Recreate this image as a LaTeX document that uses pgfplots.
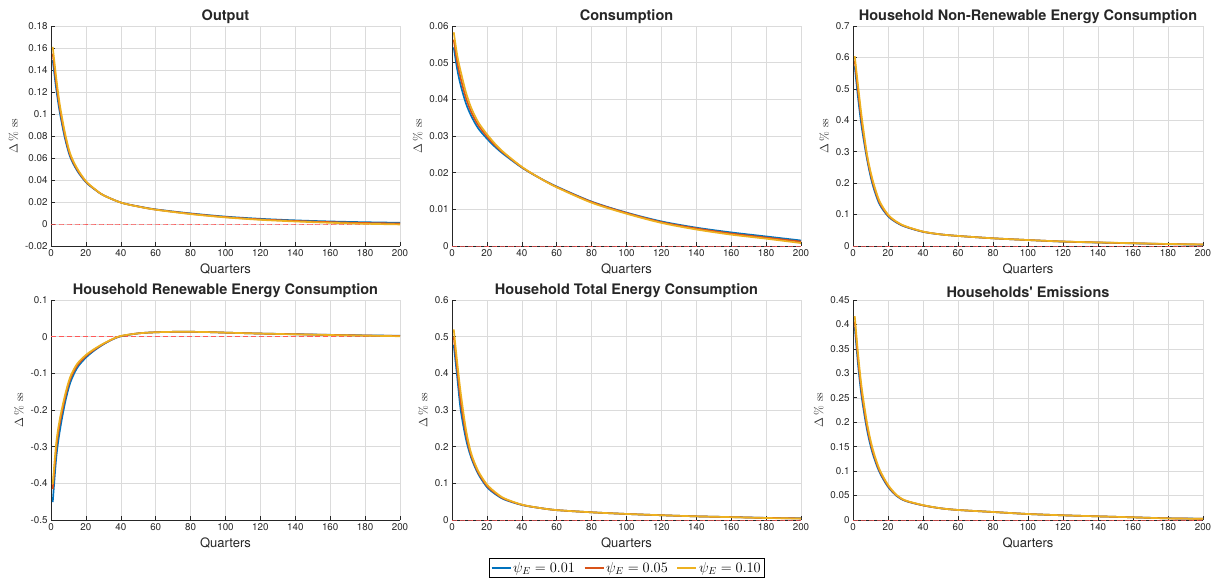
\documentclass[border=0pt]{standalone}
\usepackage{fontspec}
\usepackage{pgfplots}
\pgfplotsset{compat=1.18}
\usepackage{pgfplotstable}
\newfontfamily\helv{TeX Gyre Heros}
\definecolor{cB}{rgb}{0,0.447,0.741}
\definecolor{cO}{rgb}{0.850,0.325,0.098}
\definecolor{cY}{rgb}{0.929,0.694,0.125}
\definecolor{axc}{rgb}{0.15,0.15,0.15}
\definecolor{gridc}{rgb}{0.86,0.86,0.86}
\definecolor{zl}{rgb}{1,0.35,0.35}

\pgfplotstableread{
x b o y
1 0.149 0.155 0.161
3 0.123 0.128 0.133
5 0.102 0.1055 0.109
8 0.078 0.0805 0.083
11 0.061 0.0625 0.064
15 0.0485 0.0495 0.0505
20 0.038 0.0385 0.039
25 0.0315 0.0317 0.0319
30 0.0262 0.0262 0.0262
40 0.0195 0.0195 0.0195
50 0.016 0.0159 0.0158
60 0.0133 0.0131 0.013
80 0.0096 0.0093 0.009
100 0.0067 0.0063 0.006
120 0.0047 0.0042 0.0038
140 0.0033 0.0028 0.0023
160 0.0023 0.0017 0.0011
180 0.0016 0.0009 0.0002
200 0.0011 0.0004 -0.0004
}\tOut

\pgfplotstableread{
x b o y
1 0.0542 0.0563 0.0583
3 0.0482 0.0501 0.0520
5 0.0438 0.0457 0.0476
8 0.0389 0.0404 0.0419
11 0.0355 0.0366 0.0377
15 0.0321 0.0330 0.0338
20 0.0293 0.0299 0.0305
25 0.0269 0.0273 0.0277
30 0.0249 0.0252 0.0254
40 0.0214 0.0215 0.0216
50 0.0186 0.0186 0.0186
60 0.0162 0.0161 0.0160
80 0.0121 0.0120 0.0118
100 0.0091 0.0090 0.0088
120 0.0067 0.0065 0.0063
140 0.0050 0.0048 0.0045
160 0.0037 0.0034 0.0031
180 0.0026 0.0023 0.0020
200 0.0015 0.0012 0.0008
}\tCons

\pgfplotstableread{
x b o y
1 0.572 0.590 0.604
3 0.467 0.487 0.505
5 0.378 0.394 0.410
8 0.277 0.285 0.292
11 0.200 0.208 0.215
15 0.135 0.140 0.145
20 0.095 0.0975 0.100
25 0.074 0.0755 0.077
30 0.061 0.062 0.063
40 0.045 0.0455 0.046
50 0.037 0.037 0.037
60 0.032 0.032 0.032
80 0.0245 0.0245 0.0245
100 0.019 0.019 0.019
120 0.014 0.0142 0.0143
140 0.011 0.0112 0.0114
160 0.0085 0.0087 0.009
180 0.006 0.0062 0.0065
200 0.004 0.0045 0.005
}\tNonR

\pgfplotstableread{
x b o y
1 -0.451 -0.416 -0.402
3 -0.330 -0.305 -0.290
5 -0.258 -0.238 -0.226
8 -0.181 -0.168 -0.160
11 -0.126 -0.116 -0.110
15 -0.085 -0.079 -0.074
20 -0.057 -0.053 -0.050
25 -0.037 -0.035 -0.033
30 -0.021 -0.020 -0.019
35 -0.008 -0.0075 -0.007
40 0.001 0.0015 0.002
50 0.009 0.009 0.009
60 0.012 0.012 0.012
75 0.0135 0.0135 0.0135
90 0.0125 0.0125 0.0125
100 0.011 0.011 0.011
120 0.0085 0.0085 0.0085
140 0.0068 0.0066 0.0064
160 0.005 0.0048 0.0045
180 0.0035 0.0032 0.0028
200 0.0025 0.002 0.0012
}\tRen

\pgfplotstableread{
x b o y
1 0.478 0.500 0.520
3 0.390 0.411 0.430
5 0.300 0.323 0.347
8 0.221 0.234 0.247
11 0.170 0.176 0.182
15 0.126 0.130 0.134
20 0.090 0.0935 0.097
25 0.070 0.0725 0.075
30 0.056 0.0575 0.059
40 0.041 0.0415 0.042
50 0.033 0.033 0.033
60 0.027 0.027 0.027
80 0.021 0.021 0.021
100 0.0165 0.0165 0.0165
120 0.013 0.013 0.013
140 0.010 0.010 0.010
160 0.008 0.0079 0.0078
180 0.0058 0.0057 0.0055
200 0.0045 0.0043 0.004
}\tTot

\pgfplotstableread{
x b o y
1 0.395 0.406 0.417
3 0.314 0.325 0.336
5 0.251 0.260 0.270
8 0.185 0.192 0.199
11 0.139 0.144 0.149
15 0.099 0.102 0.105
20 0.068 0.070 0.072
25 0.049 0.050 0.051
30 0.039 0.0395 0.040
40 0.030 0.030 0.0305
50 0.024 0.024 0.024
60 0.0205 0.0205 0.0205
80 0.0164 0.0164 0.0164
100 0.0123 0.0123 0.0123
120 0.0096 0.0096 0.0096
140 0.0075 0.0075 0.0075
160 0.0055 0.0055 0.0055
180 0.0035 0.0034 0.0033
200 0.0027 0.0026 0.0025
}\tEmi

\pgfplotsset{irf/.style={
  scale only axis, width=349pt, height=220pt,
  xmin=0, xmax=200, xtick={0,20,...,200},
  axis x line*=bottom, axis y line*=left,
  axis line style={axc, line width=0.7pt},
  tick align=inside, tick style={axc, line width=0.6pt}, major tick length=4pt,
  grid=major, major grid style={gridc, line width=0.5pt},
  scaled y ticks=false, scaled x ticks=false,
  /pgf/number format/assume math mode=true,
  /pgf/number format/fixed, /pgf/number format/precision=3,
  tick label style={font=\helv\fontsize{9.8}{10}\selectfont, text=axc},
  title style={font=\helv\bfseries\fontsize{14.5}{16}\selectfont, text=black!85, yshift=-7pt},
  xlabel={\helv Quarters},
  xlabel style={font=\fontsize{13}{14}\selectfont, text=axc},
  ylabel={$\Delta\,\%$ ss},
  ylabel style={font=\fontsize{12}{13}\selectfont, text=axc},
  every axis plot/.append style={line width=1.7pt, smooth},
  clip mode=individual,
}}
\newcommand{\zeroline}{\addplot[zl, line width=0.7pt, dash pattern=on 5pt off 3pt, forget plot] coordinates {(0,0) (200,0)};}

\begin{document}
\begin{tikzpicture}
\useasboundingbox (0,0) rectangle (1218pt,-583pt);

\begin{axis}[irf, at={(51pt,-246pt)}, anchor=south west, title={Output},
  ymin=-0.02, ymax=0.18, ytick={-0.02,0,0.02,0.04,0.06,0.08,0.1,0.12,0.14,0.16,0.18}]
\zeroline
\addplot[cB] table[x=x,y=b]{\tOut};
\addplot[cO] table[x=x,y=o]{\tOut};
\addplot[cY] table[x=x,y=y]{\tOut};
\end{axis}

\begin{axis}[irf, at={(452pt,-246pt)}, anchor=south west, title={Consumption},
  ymin=0, ymax=0.06, ytick={0,0.01,0.02,0.03,0.04,0.05,0.06}]
\zeroline
\addplot[cB] table[x=x,y=b]{\tCons};
\addplot[cO] table[x=x,y=o]{\tCons};
\addplot[cY] table[x=x,y=y]{\tCons};
\end{axis}

\begin{axis}[irf, at={(853pt,-246pt)}, anchor=south west, width=350pt,
  title={Household Non-Renewable Energy Consumption},
  ymin=0, ymax=0.7, ytick={0,0.1,0.2,0.3,0.4,0.5,0.6,0.7}]
\zeroline
\addplot[cB] table[x=x,y=b]{\tNonR};
\addplot[cO] table[x=x,y=o]{\tNonR};
\addplot[cY] table[x=x,y=y]{\tNonR};
\end{axis}

\begin{axis}[irf, at={(51pt,-520pt)}, anchor=south west,
  title={Household Renewable Energy Consumption},
  ymin=-0.5, ymax=0.1, ytick={-0.5,-0.4,-0.3,-0.2,-0.1,0,0.1}]
\zeroline
\addplot[cB] table[x=x,y=b]{\tRen};
\addplot[cO] table[x=x,y=o]{\tRen};
\addplot[cY] table[x=x,y=y]{\tRen};
\end{axis}

\begin{axis}[irf, at={(452pt,-520pt)}, anchor=south west,
  title={Household Total Energy Consumption},
  ymin=0, ymax=0.6, ytick={0,0.1,0.2,0.3,0.4,0.5,0.6},
  legend style={at={(0.501,-0.218)}, anchor=center, draw=black, line width=0.6pt,
    font=\fontsize{14}{16}\selectfont, inner sep=1.5pt,
    /tikz/every even column/.append style={column sep=7pt}},
  legend columns=3, legend cell align=left,
  legend image code/.code={\draw[#1, line width=1.3pt] (0pt,0pt) -- (19pt,0pt);}]
\zeroline
\addplot[cB] table[x=x,y=b]{\tTot};
\addlegendentry{$\psi_E = 0.01$}
\addplot[cO] table[x=x,y=o]{\tTot};
\addlegendentry{$\psi_E = 0.05$}
\addplot[cY] table[x=x,y=y]{\tTot};
\addlegendentry{$\psi_E = 0.10$}
\end{axis}

\begin{axis}[irf, at={(853pt,-520pt)}, anchor=south west, width=350pt,
  title={Households' Emissions},
  ymin=0, ymax=0.45, ytick={0,0.05,0.1,0.15,0.2,0.25,0.3,0.35,0.4,0.45}]
\zeroline
\addplot[cB] table[x=x,y=b]{\tEmi};
\addplot[cO] table[x=x,y=o]{\tEmi};
\addplot[cY] table[x=x,y=y]{\tEmi};
\end{axis}
\end{tikzpicture}
\end{document}
